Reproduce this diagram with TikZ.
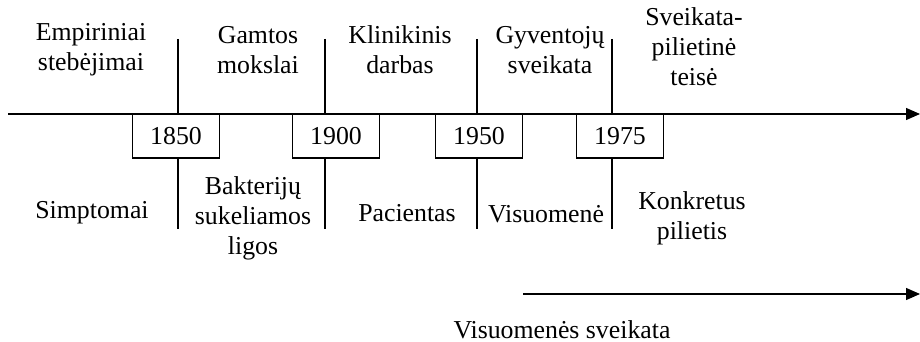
\documentclass[tikz,border=0pt]{standalone}
\usepackage{fontspec}
\setmainfont{Liberation Serif}
\usetikzlibrary{arrows.meta}
\tikzset{
  yearbox/.style={draw=black, fill=white, line width=0.65pt, minimum width=43.5pt,
    minimum height=22pt, inner sep=0pt, font=\fontsize{12.9}{15}\selectfont},
  eratext/.style={align=center, inner sep=0pt, font=\fontsize{12.9}{15}\selectfont},
  axisline/.style={line width=0.65pt, -{Triangle[length=7pt,width=6pt]}},
  tickline/.style={line width=0.65pt}
}
\begin{document}
\begin{tikzpicture}[x=0.5pt, y=-0.5pt]
\useasboundingbox (0,0) rectangle (920,342);
% time axis
\coordinate (axstart) at (8,114);
\coordinate (axend) at (920,114);
\draw[axisline] (axstart) -- (axend);
% ticks
\coordinate (t1a) at (178,39);  \coordinate (t1b) at (178,229);
\coordinate (t2a) at (325,39);  \coordinate (t2b) at (325,229);
\coordinate (t3a) at (477,39);  \coordinate (t3b) at (477,229);
\coordinate (t4a) at (612,39);  \coordinate (t4b) at (612,229);
% years
\node[yearbox] (y1850) at (176,136) {1850};
\node[yearbox] (y1900) at (336,136) {1900};
\node[yearbox] (y1950) at (479,136) {1950};
\node[yearbox] (y1975) at (620,136) {1975};
\draw[tickline] (t1a) -- (t1a |- y1850.north);
\draw[tickline] (t1a |- y1850.south) -- (t1b);
\draw[tickline] (t2a) -- (t2a |- y1900.north);
\draw[tickline] (t2a |- y1900.south) -- (t2b);
\draw[tickline] (t3a) -- (t3a |- y1950.north);
\draw[tickline] (t3a |- y1950.south) -- (t3b);
\draw[tickline] (t4a) -- (t4a |- y1975.north);
\draw[tickline] (t4a |- y1975.south) -- (t4b);
% upper row
\node[eratext] (empir) at (91,50) {Empiriniai\\stebėjimai};
\node[eratext] (gamt) at (258,50) {Gamtos\\mokslai};
\node[eratext] (klin) at (400,50) {Klinikinis\\darbas};
\node[eratext] (gyv) at (550,50) {Gyventojų\\sveikata};
\node[eratext] (piliet) at (694,47) {Sveikata-\\pilietinė\\teisė};
% lower row
\node[eratext] (simpt) at (92,213) {Simptomai};
\node[eratext] (bakt) at (253,218) {Bakterijų\\sukeliamos\\ligos};
\node[eratext] (pac) at (407,213) {Pacientas};
\node[eratext] (visuom) at (546,214) {Visuomenė};
\node[eratext] (konkr) at (692,218) {Konkretus\\pilietis};
% public health arrow
\coordinate (vsstart) at (523,294);
\coordinate (vsend) at (920,294);
\draw[axisline] (vsstart) -- (vsend);
\node[eratext] (vsveik) at (562,330) {Visuomenės sveikata};
\end{tikzpicture}
\end{document}
